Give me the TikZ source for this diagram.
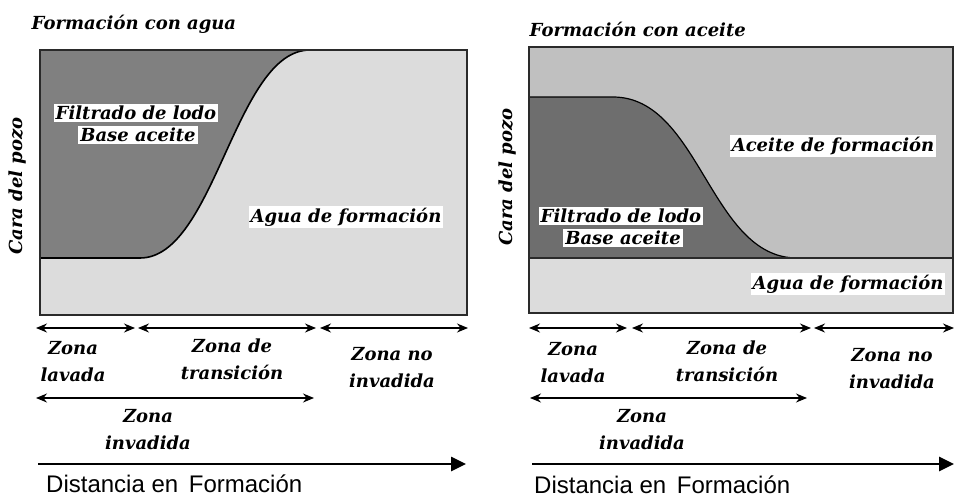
\documentclass[tikz,border=0pt]{standalone}
\usepackage{fontspec}
\usetikzlibrary{arrows.meta}
\newfontfamily\serifbi{DejaVu Serif}
\newfontfamily\sansarial{Liberation Sans}
\definecolor{lightg}{HTML}{DCDCDC}
\definecolor{midg}{HTML}{C0C0C0}
\definecolor{darkg}{HTML}{808080}
\definecolor{darkerg}{HTML}{6E6E6E}
\definecolor{edge}{HTML}{2A2A2A}
\begin{document}
\begin{tikzpicture}[x=1pt,y=-1pt,
  lbl/.style={font=\serifbi\bfseries\itshape\fontsize{18}{27}\selectfont, inner sep=1.5pt},
  wlbl/.style={lbl, fill=white, inner sep=2pt},
  zlbl/.style={lbl, align=center},
  ttl/.style={lbl, anchor=west},
  dist/.style={font=\sansarial\fontsize{24}{27}\selectfont, anchor=west, inner sep=0pt},
  dimarrow/.style={{Stealth[length=11pt,width=9pt]}-{Stealth[length=11pt,width=9pt]}, line width=1.3pt},
  bigarrow/.style={-{Triangle[length=15pt,width=14pt]}, line width=2.6pt},
  boxline/.style={draw=edge, line width=1.6pt},
  curveline/.style={draw=black, line width=1.6pt}]
\useasboundingbox (0,0) rectangle (954,498);

% ---------------- Left panel ----------------
\node[ttl] (tA) at (30,24) {Formación con agua};
\fill[lightg] (40,50) rectangle (467,315);
\fill[darkg] (40,50) -- (40,258) -- (140,258) .. controls (215,258) and (235,50) .. (310,50) -- cycle;
\draw[curveline] (40,258) -- (140,258) .. controls (215,258) and (235,50) .. (310,50);
\draw[boxline] (40,50) rectangle (467,315);

\node[wlbl] (fA1) at (136,113) {Filtrado de lodo};
\node[wlbl] (fA2) at (138,135) {Base aceite};
\node[wlbl] (aA) at (346,217) {Agua de formación};
\node[lbl, rotate=90] (cA) at (18,186) {Cara del pozo};

\coordinate (a1) at (36,328);
\coordinate (a2) at (135,328);
\coordinate (a3) at (138,328);
\coordinate (a4) at (316,328);
\coordinate (a5) at (320,328);
\coordinate (a6) at (468,328);
\draw[dimarrow] (a1) -- (a2);
\draw[dimarrow] (a3) -- (a4);
\draw[dimarrow] (a5) -- (a6);
\node[zlbl] (zA1) at (73,362) {Zona\\lavada};
\node[zlbl] (zA2) at (232,359) {Zona de\\transición};
\node[zlbl] (zA3) at (392,368) {Zona no\\invadida};
\coordinate (b1) at (36,398);
\coordinate (b2) at (314,398);
\draw[dimarrow] (b1) -- (b2);
\node[zlbl] (zA4) at (148,430) {Zona\\invadida};
\coordinate (c1) at (38,464);
\coordinate (c2) at (466,464);
\draw[bigarrow] (c1) -- (c2);
\node[dist] (dA) at (46,484) {Distancia en\, Formación};

% ---------------- Right panel ----------------
\node[ttl] (tB) at (528,29) {Formación con aceite};
\fill[midg] (529,47) rectangle (954,258);
\fill[lightg] (529,258) rectangle (954,313);
\fill[darkerg] (529,97) -- (613,97) .. controls (700,97) and (710,258) .. (797,258) -- (529,258) -- cycle;
\draw[curveline, line width=1.2pt] (529,97) -- (613,97) .. controls (700,97) and (710,258) .. (797,258);
\draw[boxline] (529,47) rectangle (953,313);
\draw[boxline] (529,258) -- (953,258);

\node[wlbl] (oB) at (833,146) {Aceite de formación};
\node[wlbl] (fB1) at (621,216) {Filtrado de lodo};
\node[wlbl] (fB2) at (623,238) {Base aceite};
\node[wlbl] (aB) at (848,284) {Agua de formación};
\node[lbl, rotate=90] (cB) at (508,177) {Cara del pozo};

\coordinate (d1) at (529,328);
\coordinate (d2) at (627,328);
\coordinate (d3) at (632,328);
\coordinate (d4) at (811,328);
\coordinate (d5) at (814,328);
\coordinate (d6) at (954,328);
\draw[dimarrow] (d1) -- (d2);
\draw[dimarrow] (d3) -- (d4);
\draw[dimarrow] (d5) -- (d6);
\node[zlbl] (zB1) at (573,363) {Zona\\lavada};
\node[zlbl] (zB2) at (727,361) {Zona de\\transición};
\node[zlbl] (zB3) at (892,369) {Zona no\\invadida};
\coordinate (e1) at (530,398);
\coordinate (e2) at (807,398);
\draw[dimarrow] (e1) -- (e2);
\node[zlbl] (zB4) at (642,430) {Zona\\invadida};
\coordinate (f1) at (532,464);
\coordinate (f2) at (954,464);
\draw[bigarrow] (f1) -- (f2);
\node[dist] (dB) at (534,485) {Distancia en\, Formación};
\end{tikzpicture}
\end{document}
